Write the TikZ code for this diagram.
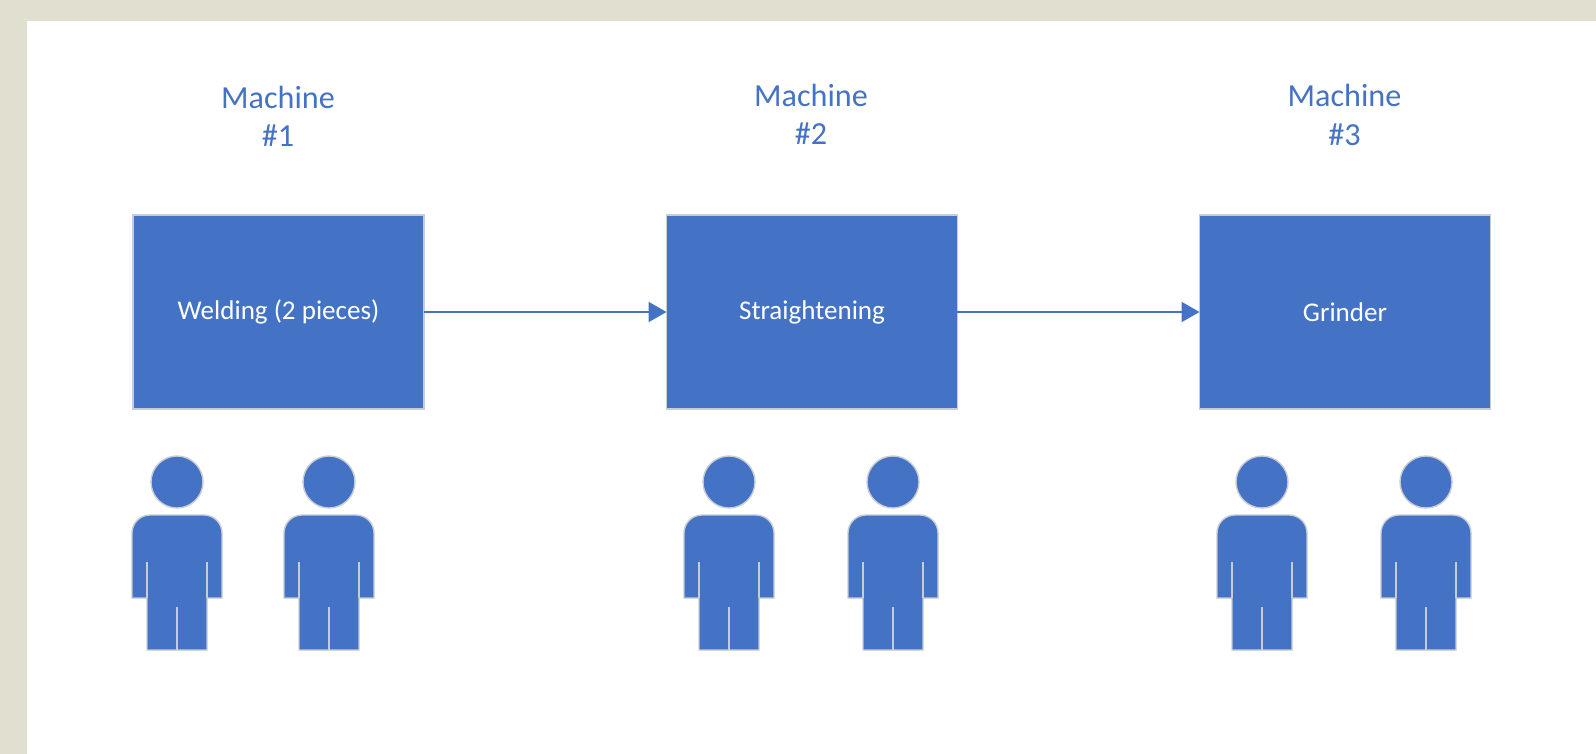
\documentclass[tikz,border=0pt]{standalone}
\usepackage{fontspec}
\setmainfont{Carlito}
\usetikzlibrary{arrows.meta,positioning}
\definecolor{officeblue}{HTML}{4472C4}
\definecolor{slideback}{HTML}{E1E0D0}
\definecolor{edgegrey}{HTML}{C8CCD4}
\tikzset{
    machinebox/.style={rectangle,draw=edgegrey,line width=0.9pt,fill=officeblue,text=white,outer sep=0pt,
        minimum width=5.82cm,minimum height=3.88cm,inner sep=0pt,font=\fontsize{15.4pt}{18pt}\selectfont},
    machinetitle/.style={text=officeblue,align=center,inner sep=0pt,font=\fontsize{18.3pt}{21.8pt}\selectfont},
    flowarrow/.style={draw=officeblue,line width=1.1pt,-{Triangle[length=0.36cm,width=0.4cm]}},
    personfill/.style={draw=edgegrey,line width=0.8pt,fill=officeblue},
    personslit/.style={draw=edgegrey,line width=0.8pt}
}
\begin{document}
\begin{tikzpicture}[x=0.02cm,y=-0.02cm]
        \useasboundingbox (0,0) rectangle (1596,754);
        \fill[slideback] (0,0) rectangle (1596,754);
        \fill[white] (27,21) rectangle (1596,754);
        \node[machinebox] (welding) at (278.5,312) {Welding (2 pieces)};
        \node[machinebox] (straightening) at (812,312) {Straightening};
        \node[machinebox] (grinder) at (1345,312) {Grinder};
        \node[machinetitle] (title1) at (278,116) {Machine\\\#1};
        \node[machinetitle] (title2) at (811,114) {Machine\\\#2};
        \node[machinetitle] (title3) at (1344.5,115) {Machine\\\#3};
        \draw[flowarrow] (welding) -- (straightening);
        \draw[flowarrow] (straightening) -- (grinder);
        \foreach \px in {177,329,729,893,1262,1426} {
            \draw[personfill] (\px,482) circle (26);
            \draw[personfill,rounded corners=0.36cm] (\px-45,598) -- (\px-45,515) -- (\px+45,515)
                [sharp corners] -- (\px+45,598) -- (\px+30,598) -- (\px+30,650)
                -- (\px-30,650) -- (\px-30,598) -- cycle;
            \draw[personslit] (\px-30,562) -- (\px-30,598);
            \draw[personslit] (\px+30,562) -- (\px+30,598);
            \draw[personslit] (\px,607) -- (\px,650);
        }
\end{tikzpicture}
\end{document}
